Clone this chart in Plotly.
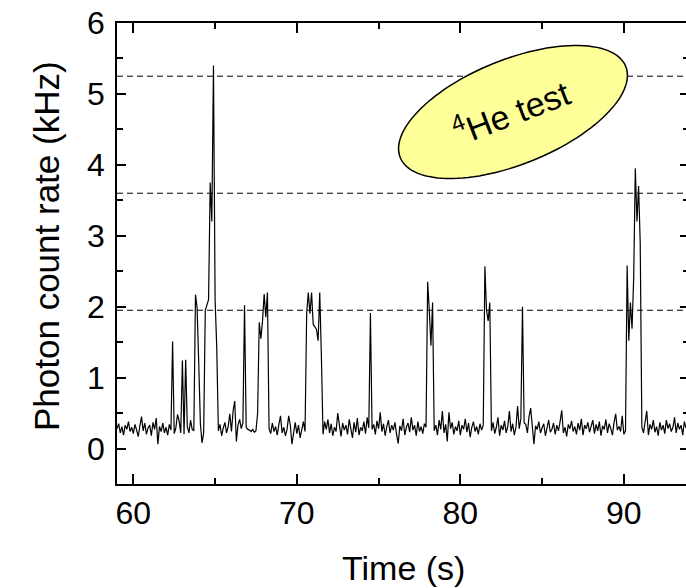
import plotly.graph_objects as go
import math

# ---------------- data ----------------
T_START = 59.0          # s, first sample
T_STEP = 0.1            # s, sampling interval

# photon count rate (kHz), 10 samples per second, in 7-second blocks
rate_59_66 = [
    0.28, 0.35, 0.22, 0.31, 0.19, 0.33, 0.27, 0.38, 0.24, 0.30,   # 59
    0.21, 0.34, 0.26, 0.17, 0.32, 0.45, 0.25, 0.36, 0.20, 0.29,   # 60
    0.33, 0.18, 0.37, 0.27, 0.43, 0.06, 0.31, 0.24, 0.36, 0.22,   # 61
    0.30, 0.19, 0.34, 0.26, 1.51, 0.21, 0.29, 0.48, 0.39, 0.22,   # 62
    1.24, 0.20, 1.25, 0.31, 0.22, 0.40, 0.27, 0.25, 2.17, 1.98,   # 63
    1.20, 0.35, 0.08, 0.22, 1.95, 2.02, 2.10, 3.75, 3.20, 5.40,   # 64
    2.10, 1.43, 0.25, 0.34, 0.18, 0.29, 0.37, 0.22, 0.31, 0.49,   # 65
]
rate_66_73 = [
    0.24, 0.53, 0.67, 0.10, 0.33, 0.41, 0.28, 0.36, 2.02, 0.30,   # 66
    0.27, 0.26, 0.24, 0.27, 0.23, 0.25, 0.50, 1.78, 1.55, 1.80,   # 67
    2.18, 1.85, 2.20, 0.28, 0.21, 0.36, 0.24, 0.31, 0.19, 0.34,   # 68
    0.46, 0.22, 0.30, 0.18, 0.27, 0.46, 0.33, 0.06, 0.25, 0.37,   # 69
    0.21, 0.33, 0.15, 0.29, 0.38, 0.24, 1.90, 2.20, 1.90, 2.20,   # 70
    1.75, 1.72, 1.68, 1.52, 2.20, 1.30, 0.20, 0.38, 0.27, 0.41,   # 71
    0.22, 0.35, 0.18, 0.30, 0.24, 0.50, 0.31, 0.17, 0.36, 0.26,   # 72
]
rate_73_80 = [
    0.33, 0.20, 0.41, 0.28, 0.15, 0.37, 0.23, 0.43, 0.19, 0.30,   # 73
    0.25, 0.38, 0.21, 0.44, 0.29, 1.91, 0.27, 0.34, 0.20, 0.39,   # 74
    0.28, 0.51, 0.24, 0.35, 0.18, 0.31, 0.40, 0.22, 0.33, 0.26,   # 75
    0.37, 0.20, 0.07, 0.32, 0.25, 0.42, 0.19, 0.30, 0.36, 0.23,   # 76
    0.44, 0.26, 0.33, 0.18, 0.38, 0.24, 0.31, 0.21, 0.35, 0.30,   # 77
    2.35, 1.95, 1.45, 2.06, 0.25, 0.33, 0.19, 0.40, 0.27, 0.53,   # 78
    0.22, 0.34, 0.10, 0.51, 0.28, 0.37, 0.20, 0.31, 0.25, 0.39,   # 79
]
rate_80_87 = [
    0.19, 0.33, 0.27, 0.42, 0.23, 0.36, 0.16, 0.30, 0.38, 0.24,   # 80
    0.31, 0.20, 0.35, 0.26, 0.33, 2.57, 1.95, 1.80, 2.06, 0.25,   # 81
    0.37, 0.21, 0.30, 0.44, 0.18, 0.33, 0.26, 0.39, 0.22, 0.31,   # 82
    0.53, 0.24, 0.35, 0.19, 0.30, 0.60, 0.28, 0.42, 2.00, 0.36,   # 83
    0.34, 0.22, 0.45, 0.57, 0.24, 0.06, 0.32, 0.27, 0.38, 0.22,   # 84
    0.29, 0.35, 0.18, 0.31, 0.40, 0.23, 0.27, 0.36, 0.20, 0.33,   # 85
    0.25, 0.38, 0.54, 0.22, 0.30, 0.17, 0.34, 0.28, 0.39, 0.24,   # 86
]
rate_87_94 = [
    0.31, 0.20, 0.36, 0.26, 0.42, 0.19, 0.33, 0.28, 0.37, 0.23,   # 87
    0.30, 0.40, 0.21, 0.34, 0.25, 0.38, 0.18, 0.32, 0.27, 0.41,   # 88
    0.22, 0.35, 0.28, 0.19, 0.37, 0.49, 0.26, 0.31, 0.24, 0.46,   # 89
    0.20, 0.25, 2.58, 1.52, 2.06, 1.69, 2.40, 3.95, 3.20, 3.70,   # 90
    2.90, 0.30, 0.22, 0.36, 0.53, 0.19, 0.34, 0.27, 0.40, 0.23,   # 91
    0.31, 0.18, 0.37, 0.26, 0.33, 0.21, 0.40, 0.28, 0.35, 0.24,   # 92
    0.30, 0.44, 0.22, 0.36, 0.27, 0.33, 0.19, 0.38, 0.29, 0.34,   # 93
]

threshold_levels = [1.95, 3.60, 5.25]      # kHz, dashed lines
x_tick_vals = [60, 70, 80, 90]
y_tick_vals = [0, 1, 2, 3, 4, 5, 6]
x_title = "Time (s)"
y_title = "Photon count rate (kHz)"
badge_text = "<sup>4</sup>He test"

# ---------------- build ----------------
rate_khz = rate_59_66 + rate_66_73 + rate_73_80 + rate_80_87 + rate_87_94
time_s = [round(T_START + T_STEP * i, 2) for i in range(len(rate_khz))]

X_RANGE = [59.0, 93.8]
Y_RANGE = [-0.5, 6.0]
W, H = 686, 588
ML, MR, MT, MB = 117, 0, 23, 104
PW, PH = W - ML - MR, H - MT - MB

FONT = "Liberation Sans, Arial, Helvetica, sans-serif"


def px_to_x(px):
    return X_RANGE[0] + (px - ML) / PW * (X_RANGE[1] - X_RANGE[0])


def py_to_y(py):
    return Y_RANGE[0] + (H - MB - py) / PH * (Y_RANGE[1] - Y_RANGE[0])


fig = go.Figure()
fig.add_trace(go.Scatter(
    x=time_s, y=rate_khz, mode="lines",
    line=dict(color="black", width=1.2),
    hoverinfo="skip", showlegend=False,
))
# helper (empty) trace so the right-hand tick axis renders
fig.add_trace(go.Scatter(x=[], y=[], xaxis="x", yaxis="y2",
                         showlegend=False, hoverinfo="skip"))

shapes = []
for lvl in threshold_levels:
    shapes.append(dict(type="line", xref="paper", yref="y",
                       x0=0, x1=1, y0=lvl, y1=lvl,
                       line=dict(color="black", width=1, dash="6px,4px"),
                       layer="above"))

# rotated ellipse badge (decoration)
cx, cy, a, b, th = 513.0, 112.0, 121.6, 52.3, math.radians(22)
pts = []
n = 120
for k in range(n):
    s = 2 * math.pi * k / n
    dx = a * math.cos(s) * math.cos(th) - b * math.sin(s) * math.sin(th)
    dy = a * math.cos(s) * math.sin(th) + b * math.sin(s) * math.cos(th)
    pts.append((px_to_x(cx + dx), py_to_y(cy - dy)))
path = "M " + " L ".join(f"{x:.4f},{y:.4f}" for x, y in pts) + " Z"
shapes.append(dict(type="path", xref="x", yref="y", path=path,
                   fillcolor="#FFFF99", line=dict(color="black", width=1.5),
                   layer="above"))

annotations = [
    dict(text=badge_text, x=px_to_x(511), y=py_to_y(110), xref="x", yref="y",
         showarrow=False, textangle=-21, xanchor="center", yanchor="middle",
         font=dict(family=FONT, size=34, color="black")),
    dict(text=x_title, x=(403 - ML) / PW, y=(H - MB - 568) / PH,
         xref="paper", yref="paper", showarrow=False,
         xanchor="center", yanchor="middle",
         font=dict(family=FONT, size=34, color="black")),
    dict(text=y_title, x=(47 - ML) / PW, y=(H - MB - 246) / PH,
         xref="paper", yref="paper", showarrow=False, textangle=-90,
         xanchor="center", yanchor="middle",
         font=dict(family=FONT, size=35, color="black")),
]

axis_common = dict(showgrid=False, zeroline=False, color="black",
                   tickfont=dict(family=FONT, size=32, color="black"))

fig.update_layout(
    width=W, height=H,
    margin=dict(l=ML, r=MR, t=MT, b=MB, pad=0),
    paper_bgcolor="white", plot_bgcolor="white",
    shapes=shapes, annotations=annotations,
    xaxis=dict(range=X_RANGE, tickvals=x_tick_vals, ticks="inside",
               ticklen=10, tickwidth=1.5, showline=True, linewidth=1.5,
               linecolor="black", mirror="ticks",
               minor=dict(ticks="inside", ticklen=6, tickwidth=1.5,
                          tickvals=[65, 75, 85], showgrid=False),
               **axis_common),
    yaxis=dict(range=Y_RANGE, tickvals=y_tick_vals, ticks="inside",
               ticklen=9, tickwidth=1.5, showline=True, linewidth=1.5,
               linecolor="black", ticklabelstandoff=4,
               minor=dict(ticks="inside", ticklen=6, tickwidth=1.5,
                          dtick=0.5, tick0=0, showgrid=False),
               **axis_common),
    yaxis2=dict(range=Y_RANGE, overlaying="y", side="right", anchor="x",
                tickvals=y_tick_vals, ticks="inside", ticklen=6,
                tickwidth=1.5, showline=False, showticklabels=False,
                showgrid=False, zeroline=False, tickcolor="black",
                minor=dict(ticks="inside", ticklen=3, tickwidth=1.5,
                           dtick=0.5, tick0=0, showgrid=False)),
)

fig.write_html("out.html")
